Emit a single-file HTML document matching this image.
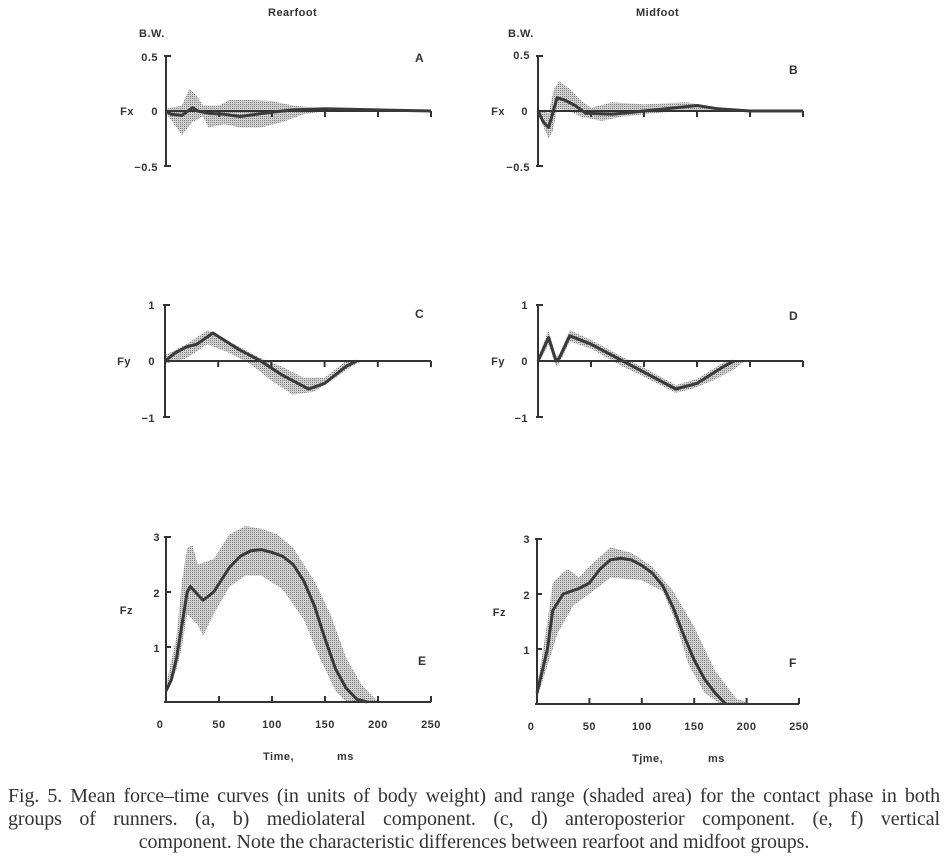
<!DOCTYPE html>
<html><head><meta charset="utf-8">
<style>
body{margin:0;background:#fff;width:948px;height:861px;overflow:hidden}
svg{position:absolute;left:0;top:0}
.t{font-family:"Liberation Sans",sans-serif;font-size:11px;fill:#333;font-weight:bold;letter-spacing:0.5px}
.cap{position:absolute;left:8px;width:932px;font-family:"Liberation Serif",serif;font-size:20px;letter-spacing:-0.1px;color:#333;line-height:23.5px;white-space:nowrap}
.j{text-align:justify;text-align-last:justify}
.c{text-align:center}
</style></head><body>
<svg id="s" width="948" height="861" viewBox="0 0 948 861">
<defs>
<pattern id="dots" width="2" height="2" patternUnits="userSpaceOnUse">
<rect width="2" height="2" fill="#d0d0d0"/><rect width="1" height="1" fill="#808080"/>
</pattern>
</defs>
<g class="t">
<text x="268" y="16">Rearfoot</text>
<text x="636" y="16">Midfoot</text>
<text x="139" y="37">B.W.</text>
<text x="508" y="37">B.W.</text>
<text x="415" y="62" font-size="12">A</text>
<text x="789" y="74" font-size="12">B</text>
<text x="415" y="318" font-size="12">C</text>
<text x="789" y="320" font-size="12">D</text>
<text x="418" y="665" font-size="12">E</text>
<text x="789" y="667" font-size="12">F</text>
<text x="263" y="760">Time,</text><text x="337" y="760">ms</text>
<text x="632" y="762">Tjme,</text><text x="708" y="762">ms</text>
</g>
<g id="g"></g>
</svg>
<div class="cap j" style="top:785px">Fig. 5. Mean force–time curves (in units of body weight) and range (shaded area) for the contact phase in both</div>
<div class="cap j" style="top:808px">groups of runners. (a, b) mediolateral component. (c, d) anteroposterior component. (e, f) vertical</div>
<div class="cap c" style="top:831px">component. Note the characteristic differences between rearfoot and midfoot groups.</div>
<script>
const g=document.getElementById('g');let h='';
function P(o){
 const X=t=>o.x0+t*o.sx, Y=v=>o.y0-v*o.sy;
 const lo=o.lo.map(p=>X(p[0])+','+Y(p[1])), hi=o.hi.slice().reverse().map(p=>X(p[0])+','+Y(p[1]));
 h+=`<polygon points="${lo.concat(hi).join(' ')}" fill="url(#dots)" stroke="none"/>`;
 const top=Y(o.ymax), bot=Y(o.ymin);
 h+=`<g stroke="#333" stroke-width="2" fill="none"><line x1="${o.x0}" y1="${top}" x2="${o.x0}" y2="${bot}"/><line x1="${o.x0}" y1="${o.y0}" x2="${X(250)}" y2="${o.y0}"/>`;
 for(const v of o.yt) h+=`<line x1="${o.x0}" y1="${Y(v)}" x2="${o.x0+5}" y2="${Y(v)}"/>`;
 h+=`<line x1="${o.x0-2}" y1="${top}" x2="${o.x0+5}" y2="${top}"/><line x1="${o.x0-2}" y1="${bot}" x2="${o.x0+5}" y2="${bot}"/>`;
 for(const t of [50,100,150,200,250]) h+=`<line x1="${X(t)}" y1="${o.y0}" x2="${X(t)}" y2="${o.y0+(o.bottom?-6:6)}"/>`;
 h+='</g>';
 h+=`<polyline points="${o.m.map(p=>X(p[0])+','+Y(p[1])).join(' ')}" fill="none" stroke="#3a3a3a" stroke-width="3" stroke-linejoin="round"/>`;
 for(const l of o.lab) h+=`<text class="t" x="${l[0]}" y="${l[1]}" text-anchor="end">${l[2]}</text>`;
 if(o.bottom){const L=['0','50','100','150','200','250'];[0,50,100,150,200,250].forEach((t,i)=>h+=`<text class="t" x="${X(t)+(i==0?-6:0)}" y="${o.y0+26}" text-anchor="middle">${L[i]}</text>`);}
}
P({x0:166,sx:1.06,y0:111,sy:110,ymax:0.5,ymin:-0.5,yt:[0],
 lab:[[158,61,'0.5'],[134,115,'Fx'],[158,115,'0'],[158,171,'−0.5']],
 m:[[0,0],[5,-0.03],[15,-0.04],[25,0.03],[30,0],[40,-0.02],[55,-0.03],[70,-0.05],[85,-0.03],[100,-0.01],[120,0.01],[150,0.02],[200,0.01],[250,0]],
 lo:[[0,-0.02],[10,-0.15],[15,-0.22],[25,-0.1],[35,-0.05],[40,-0.15],[55,-0.12],[70,-0.15],[90,-0.15],[110,-0.1],[130,-0.03],[150,0]],
 hi:[[0,0.02],[15,0.05],[22,0.2],[28,0.15],[35,0.05],[50,0.05],[60,0.1],[80,0.1],[100,0.09],[120,0.05],[140,0.03],[150,0.01]]});
P({x0:538,sx:1.06,y0:111,sy:110,ymax:0.5,ymin:-0.5,yt:[0],
 lab:[[530,59,'0.5'],[505,115,'Fx'],[528,115,'0'],[530,171,'−0.5']],
 m:[[0,0],[5,-0.1],[10,-0.15],[13,-0.05],[18,0.12],[25,0.1],[35,0.05],[45,-0.02],[70,-0.03],[100,0],[130,0.03],[150,0.05],[170,0.02],[200,0],[250,0]],
 lo:[[0,-0.03],[10,-0.25],[14,-0.18],[18,0.02],[30,0],[40,-0.05],[60,-0.09],[80,-0.05],[110,-0.02],[140,0.01],[170,0],[200,0]],
 hi:[[0,0.02],[10,-0.02],[15,0.2],[20,0.27],[30,0.2],[40,0.1],[50,0.03],[70,0.08],[100,0.06],[140,0.08],[170,0.03],[200,0]]});
P({x0:165,sx:1.064,y0:361,sy:56,ymax:1,ymin:-1,yt:[0],
 lab:[[155,309,'1'],[131,365,'Fy'],[155,365,'0'],[155,422,'−1']],
 m:[[0,0],[10,0.15],[20,0.25],[30,0.3],[45,0.5],[70,0.2],[90,0],[110,-0.25],[135,-0.5],[150,-0.4],[170,-0.1],[180,0]],
 lo:[[0,-0.05],[20,0.05],[40,0.3],[60,0.15],[80,-0.05],[100,-0.35],[120,-0.6],[140,-0.55],[160,-0.3],[175,-0.1],[185,0]],
 hi:[[0,0.1],[20,0.3],[40,0.55],[50,0.45],[70,0.25],[90,0.05],[110,-0.1],[130,-0.3],[150,-0.3],[170,0],[180,0]]});
P({x0:538,sx:1.06,y0:361,sy:56,ymax:1,ymin:-1,yt:[0],
 lab:[[528,309,'1'],[505,365,'Fy'],[528,365,'0'],[528,422,'−1']],
 m:[[0,0],[10,0.42],[17,0],[20,0.05],[30,0.45],[50,0.3],[80,0],[100,-0.2],[130,-0.5],[150,-0.4],[175,-0.1],[185,0]],
 lo:[[0,-0.07],[10,0.3],[17,-0.1],[20,-0.05],[30,0.35],[50,0.22],[80,-0.1],[100,-0.28],[130,-0.57],[145,-0.5],[165,-0.35],[185,-0.15],[195,0]],
 hi:[[0,0.07],[10,0.55],[17,0.07],[20,0.12],[30,0.55],[50,0.38],[80,0.07],[100,-0.12],[130,-0.43],[150,-0.32],[175,-0.03],[185,0]]});
P({x0:166,sx:1.06,y0:702,sy:55,ymax:3,ymin:0,yt:[1,2],bottom:true,
 lab:[[160,541,'3'],[160,597,'2'],[133,614,'Fz'],[160,652,'1']],
 m:[[0,0.2],[5,0.4],[10,0.8],[15,1.4],[20,2.0],[23,2.1],[30,1.95],[35,1.85],[45,2.0],[60,2.45],[70,2.65],[80,2.75],[90,2.77],[100,2.72],[110,2.65],[120,2.5],[130,2.2],[140,1.75],[150,1.15],[160,0.6],[170,0.25],[180,0.05],[190,0]],
 lo:[[0,0.15],[10,0.6],[15,1.0],[20,1.6],[30,1.4],[35,1.2],[45,1.6],[60,2.1],[75,2.3],[90,2.3],[110,2.05],[130,1.5],[145,0.8],[160,0.2],[170,0]],
 hi:[[0,0.3],[10,1.2],[15,2.2],[20,2.8],[25,2.85],[30,2.5],[45,2.6],[60,3.05],[75,3.2],[90,3.15],[105,3.05],[120,2.8],[140,2.2],[155,1.6],[170,0.8],[185,0.3],[200,0]]});
P({x0:537,sx:1.048,y0:704,sy:55,ymax:3,ymin:0,yt:[1,2],bottom:true,
 lab:[[530,543,'3'],[530,599,'2'],[506,616,'Fz'],[530,654,'1']],
 m:[[0,0.2],[5,0.6],[10,1.0],[15,1.7],[25,2.0],[40,2.1],[50,2.2],[60,2.45],[70,2.62],[80,2.65],[90,2.62],[100,2.52],[110,2.38],[120,2.15],[130,1.75],[140,1.25],[150,0.8],[160,0.45],[170,0.2],[180,0]],
 lo:[[0,0.1],[10,0.7],[20,1.3],[35,1.8],[50,2.0],[70,2.3],[100,2.25],[120,2.05],[130,1.6],[145,0.7],[160,0.2],[175,0]],
 hi:[[0,0.3],[10,1.5],[15,2.2],[25,2.4],[30,2.45],[40,2.3],[50,2.5],[70,2.85],[90,2.75],[110,2.5],[130,2.05],[150,1.4],[170,0.6],[190,0.1],[205,0]]});
g.innerHTML=h;
</script>
</body></html>
